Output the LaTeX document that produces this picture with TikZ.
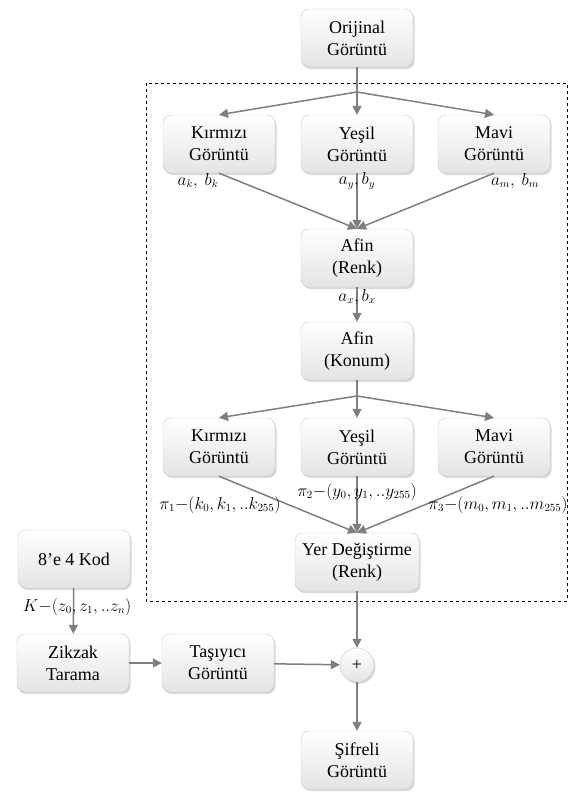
\documentclass[tikz,border=0pt]{standalone}
\usepackage{fontspec}
\setmainfont{Liberation Serif}
\usetikzlibrary{arrows.meta, positioning, shadows, calc}
\definecolor{cline}{HTML}{7F7F7F}
\definecolor{cbox}{HTML}{E4E4E4}
\definecolor{cedge}{HTML}{C8C8C8}
\tikzset{
  every picture/.style={x=1pt, y=1pt, font=\fontsize{18}{22}\selectfont},
  box/.style={draw=cedge, top color=white, bottom color=cbox, rounded corners=8pt, align=center, minimum width=112pt, minimum height=58pt, inner sep=4pt, drop shadow={opacity=0.3, shadow xshift=1.5pt, shadow yshift=-2pt}},
  sum/.style={circle, draw=cedge, top color=white, bottom color=cbox, minimum size=34pt, inner sep=0pt, drop shadow={opacity=0.3, shadow xshift=1.5pt, shadow yshift=-2pt}},
  arrow/.style={-{Triangle[length=9pt, width=9pt]}, draw=cline, line width=1.5pt},
  link/.style={draw=cline, line width=1.5pt},
  lbl/.style={font=\fontsize{16}{18}\selectfont, inner sep=1pt},
  frame/.style={draw=black, dashed, line width=1pt},
}
\begin{document}
\begin{tikzpicture}
  \useasboundingbox (0,0) rectangle (569,-798);
  \draw[frame] (146,-83) rectangle (567,-601);
  % top part
  \node[box] (orig) at (357,-38) {Orijinal\\Görüntü};
  \foreach \n/\t/\x in {kr/Kırmızı/219, ye/Yeşil/357, ma/Mavi/494} {
    \node[box] (\n1) at (\x,-144) {\t\\Görüntü};
    \node[box] (\n2) at (\x,-447) {\t\\Görüntü};
  }
  \node[box] (afr) at (357,-258) {Afin\\(Renk)};
  \node[box] (afk) at (357,-351) {Afin\\(Konum)};
  \node[box, minimum width=124pt] (yer) at (357,-562) {Yer Değiştirme\\(Renk)};
  \node[sum] (plus) at (357,-665) {+};
  \node[box] (sif) at (357,-760) {Şifreli\\Görüntü};
  % left part
  \node[box] (kod) at (74,-559) {8’e 4 Kod};
  \node[box] (zik) at (73,-663) {Zikzak\\Tarama};
  \node[box] (tas) at (218,-663) {Taşıyıcı\\Görüntü};
  \coordinate (s1) at (357,-92);
  \coordinate (s2) at (357,-396);
  \draw[link] (orig) -- (s1);
  \draw[link] (afk) -- (s2);
  \foreach \n in {kr,ye,ma} {
    \draw[arrow] (s1) -- (\n1.north);
    \draw[arrow] (\n1.south) -- (afr.north);
    \draw[arrow] (s2) -- (\n2.north);
    \draw[arrow] (\n2.south) -- (yer.north);
  }
  \draw[arrow] (afr) -- (afk);
  \draw[arrow] (yer) -- (plus);
  \draw[arrow] (plus) -- (sif);
  \draw[arrow] (kod) -- (zik);
  \draw[arrow] (zik) -- (tas);
  \draw[arrow] (tas) -- (plus);
  % labels
  \node[lbl] (lk) at (198,-181) {$a_k,\ b_k$};
  \node[lbl] (ly) at (357,-181) {$a_y, b_y$};
  \node[lbl] (lm) at (515,-181) {$a_m,\ b_m$};
  \node[lbl] (lx) at (357,-297) {$a_x, b_x$};
  \node[lbl] (p1) at (220,-505) {$\pi_1{-}(k_0,k_1,..k_{255})$};
  \node[lbl] (p2) at (357,-492) {$\pi_2{-}(y_0,y_1,..y_{255})$};
  \node[lbl] (p3) at (498,-505) {$\pi_3{-}(m_0,m_1,..m_{255})$};
  \node[lbl] (kk) at (77,-607) {$K{-}(z_0,z_1,..z_n)$};
\end{tikzpicture}
\end{document}
